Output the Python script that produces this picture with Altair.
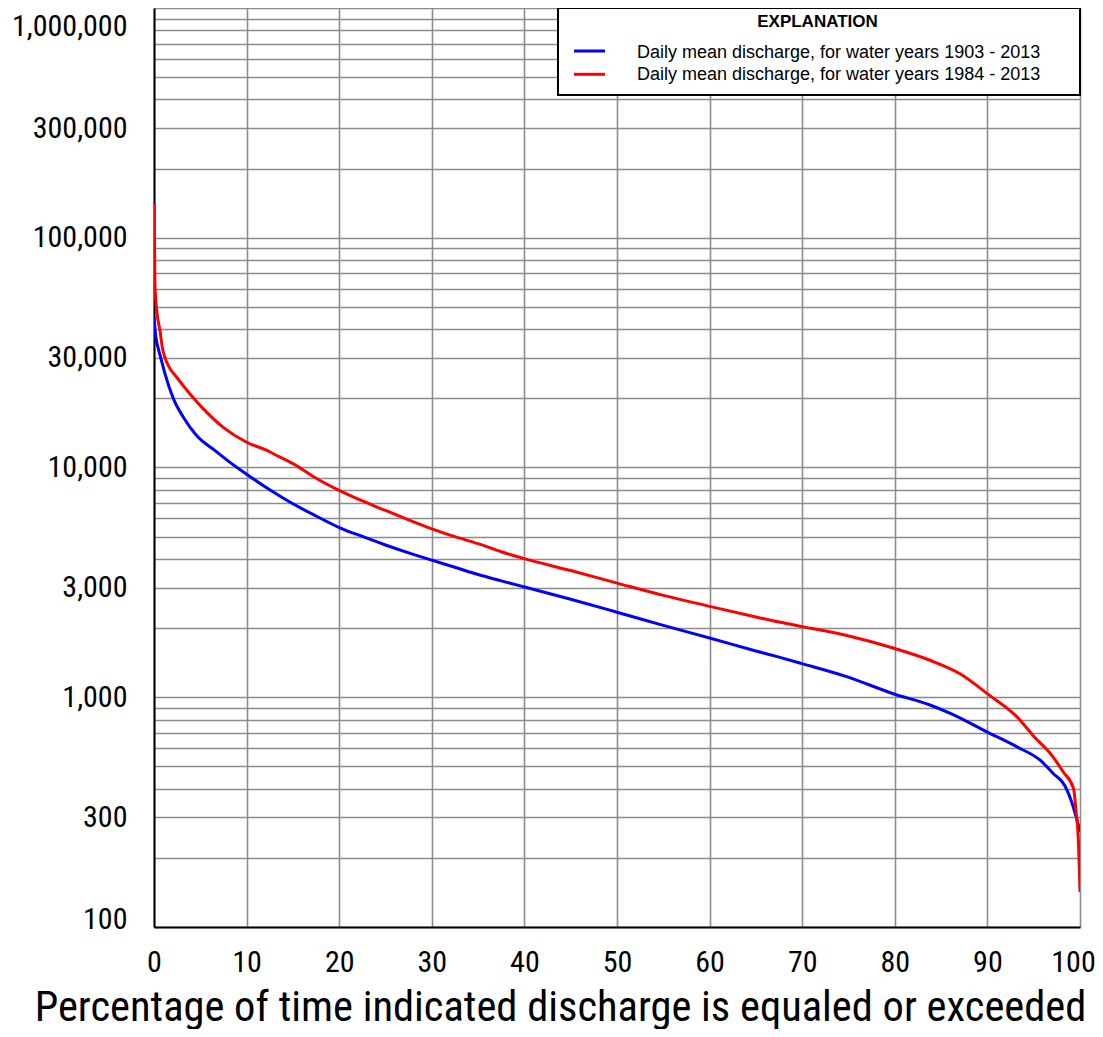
import altair as alt
import pandas as pd

# ---- data ----
blue_pct = [0.0, 0.2, 0.5, 0.83, 1.2, 2.08, 3.17, 4.6, 6.77, 7.85, 10, 12.5, 15, 17.5, 20, 22.5,
            25, 27.5, 30, 32.5, 35, 37.5, 40, 45, 50, 55, 60, 65, 67.5, 70, 74.7, 80, 83.8, 86,
            90, 93.2, 95.7, 97.1, 98.4, 99.1, 99.6, 100]
blue_cfs = [45000, 37000, 32500, 29000, 25500, 20000, 16550, 13770, 11700, 10800, 9350, 8000,
            6950, 6150, 5480, 5010, 4600, 4250, 3950, 3680, 3420, 3210, 3020, 2670, 2345, 2055,
            1810, 1590, 1495, 1400, 1233, 1031, 925, 850, 705, 608, 532, 466, 410, 350, 300, 260]

red_pct = [0.0, 0.1, 0.3, 0.65, 0.9, 1.19, 1.6, 2.45, 3.89, 5.33, 7.48, 10, 12.2, 13.6, 15, 17.6,
           20, 22.5, 25, 27.5, 30, 32.5, 35, 37.5, 40, 45, 50, 55, 60, 65, 67.5, 70, 74.7, 80,
           83.8, 87, 90.2, 93.2, 95.1, 96.8, 98.2, 99.3, 99.6, 99.8, 100]
red_cfs = [140000, 63000, 48000, 39400, 33300, 30000, 27500, 24700, 20900, 18000, 14960, 12880,
           11860, 11090, 10400, 8940, 7950, 7150, 6500, 5920, 5410, 5000, 4660, 4300, 4010, 3560,
           3140, 2775, 2487, 2235, 2125, 2030, 1862, 1630, 1449, 1268, 1021, 821, 670, 569, 473,
           401, 312, 250, 142]

series_names = ["Daily mean discharge, for water years 1903 - 2013",
                "Daily mean discharge, for water years 1984 - 2013"]
series_colors = ["#0000ff", "#ff0000"]

x_ticks = list(range(0, 101, 10))
y_grid = [m * 10 ** e for e in range(2, 6) for m in range(1, 10)] + [1000000]
y_labelled = [100, 300, 1000, 3000, 10000, 30000, 100000, 300000, 1000000]
legend_title = "EXPLANATION"
x_title = "Percentage of time indicated discharge is equaled or exceeded"

# ---- build table ----
rows = []
for name, xs, ys in [(series_names[0], blue_pct, blue_cfs), (series_names[1], red_pct, red_cfs)]:
    for i, (p, q) in enumerate(zip(xs, ys)):
        rows.append({"series": name, "pct": p, "cfs": q, "idx": i})
df = pd.DataFrame(rows)

FONT = "Liberation Sans Narrow, Arial Narrow, Roboto Condensed, DejaVu Sans Condensed, sans-serif"
LFONT = "Liberation Sans, Arial, sans-serif"

W, H = 926, 919

label_expr = "indexof(%s, datum.value) >= 0 ? datum.label : ''" % str(y_labelled)

lines = alt.Chart(df).mark_line(strokeWidth=3, clip=True, interpolate="monotone").encode(
    x=alt.X("pct:Q",
            scale=alt.Scale(domain=[0, 100], nice=False, zero=False),
            axis=alt.Axis(values=x_ticks, title=x_title, grid=True, gridColor="#8c8c8c",
                          gridWidth=1.6, ticks=False, domainColor="#000000", domainWidth=2,
                          labelFont=FONT, labelFontSize=30, labelColor="#000000",
                          labelPadding=20, labelFlush=False, labelOverlap=False,
                          labelOffset=alt.ConditionalAxisNumber(
                              condition={"test": "datum.value == 100", "value": -7}, value=0),
                          titleFont=FONT, titleFontSize=42.5, titleFontWeight="normal",
                          titleColor="#000000", titleX=406, titleY=93,
                          titleAlign="center", titleAnchor="start", titleBaseline="alphabetic")),
    y=alt.Y("cfs:Q",
            scale=alt.Scale(type="log", domain=[100, 1000000], nice=False),
            axis=alt.Axis(values=y_grid, labelExpr=label_expr, title=None, grid=True,
                          gridColor="#8c8c8c", gridWidth=1.6, ticks=False,
                          domainColor="#000000", domainWidth=2,
                          labelFont=FONT, labelFontSize=30, labelColor="#000000",
                          labelPadding=27, labelFlush=True, labelOverlap=False,
                          labelOffset={"expr": "datum.value == 100 ? 7 : (datum.value == 1000000 ? 3 : 0)"})),
    color=alt.Color("series:N", scale=alt.Scale(domain=series_names, range=series_colors),
                    legend=None),
    order="idx:Q",
)

box = alt.Chart(pd.DataFrame({"t": [legend_title]})).mark_rect(
    fill="white", stroke="black", strokeWidth=2
).encode(x=alt.value(404), x2=alt.value(W), y=alt.value(0), y2=alt.value(87))

title_txt = alt.Chart(pd.DataFrame({"t": [legend_title]})).mark_text(
    font=LFONT, fontSize=17, fontWeight="bold", color="black", align="center", baseline="middle"
).encode(x=alt.value(663.5), y=alt.value(14), text="t:N")

layers = [lines, box, title_txt]
for i, name in enumerate(series_names):
    sym = alt.Chart(pd.DataFrame({"s": [name]})).mark_rule(
        color=series_colors[i], strokeWidth=3
    ).encode(x=alt.value(420), x2=alt.value(451), y=alt.value(43 + i * 23.3))
    lab = alt.Chart(pd.DataFrame({"s": [name]})).mark_text(
        font=LFONT, fontSize=18, color="black", align="left", baseline="middle"
    ).encode(x=alt.value(483), y=alt.value(45 + i * 22.4), text="s:N")
    layers += [sym, lab]

chart = alt.layer(*layers).properties(
    width=W, height=H,
    autosize=alt.AutoSizeParams(type="none"),
    padding={"left": 146, "top": 0, "right": 15, "bottom": 102},
).configure_view(stroke="#000000", strokeWidth=2).configure(background="white")

chart.save("out.html", embed_options={"renderer": "svg", "actions": False})
